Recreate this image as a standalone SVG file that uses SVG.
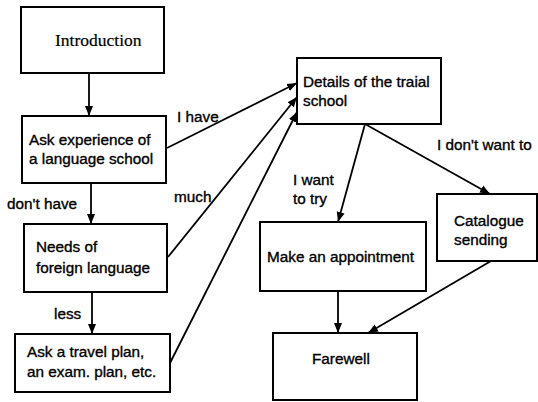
<svg xmlns="http://www.w3.org/2000/svg" width="538" height="402" viewBox="0 0 538 402">
<style>
.box{fill:#fff;stroke:#000;stroke-width:2}
.t{font-family:"Liberation Sans",Arial,sans-serif;font-size:15.3px;fill:#000;stroke:#000;stroke-width:0.35}
.s{font-family:"Liberation Serif","Times New Roman",serif;font-size:17.5px;fill:#000;stroke:#000;stroke-width:0.2}
.c{stroke:#000;stroke-width:1.8;fill:none;marker-end:url(#ah)}
</style>
<defs>
<marker id="ah" markerUnits="userSpaceOnUse" markerWidth="10" markerHeight="10" viewBox="0 0 10 10" refX="10" refY="5" orient="auto">
<path d="M0,1 L10,5 L0,9 Z" fill="#000"/>
</marker>
</defs>
<rect width="538" height="402" fill="#fff"/>
<g id="connectors">
<line class="c" x1="89" y1="73" x2="89" y2="116"/>
<line class="c" x1="91" y1="183" x2="91" y2="224"/>
<line class="c" x1="92" y1="292" x2="92" y2="334"/>
<line class="c" x1="167" y1="148" x2="297" y2="83"/>
<line class="c" x1="168" y1="257" x2="297" y2="97"/>
<line class="c" x1="170" y1="363" x2="297" y2="112"/>
<line class="c" x1="365" y1="124" x2="338" y2="222"/>
<line class="c" x1="365" y1="124" x2="490" y2="194"/>
<line class="c" x1="338" y1="291" x2="338" y2="333"/>
<line class="c" x1="491" y1="261" x2="368" y2="333"/>
<text class="t" x="177" y="122">I have</text>
<text class="t" x="7" y="209">don't have</text>
<text class="t" x="174" y="202">much</text>
<text class="t" x="54" y="319">less</text>
<text class="t" x="293" y="185">I want</text>
<text class="t" x="293" y="204">to try</text>
<text class="t" x="437" y="150">I don't want to</text>
</g>
<g id="introduction">
<rect class="box" x="21" y="7" width="143" height="66"/>
<text class="s" x="55" y="46">Introduction</text>
</g>
<g id="ask-experience">
<rect class="box" x="22" y="116" width="144" height="67"/>
<text class="t" x="29" y="145">Ask experience of</text>
<text class="t" x="29" y="164">a language school</text>
</g>
<g id="needs">
<rect class="box" x="24" y="224" width="143" height="68"/>
<text class="t" x="36" y="252">Needs of</text>
<text class="t" x="36" y="273">foreign language</text>
</g>
<g id="ask-travel">
<rect class="box" x="15" y="334" width="155" height="58"/>
<text class="t" x="27" y="357">Ask a travel plan,</text>
<text class="t" x="27" y="377">an exam. plan, etc.</text>
</g>
<g id="details">
<rect class="box" x="297" y="58" width="144" height="66"/>
<text class="t" x="303" y="87">Details of the traial</text>
<text class="t" x="303" y="106">school</text>
</g>
<g id="make-appointment">
<rect class="box" x="260" y="222" width="166" height="69"/>
<text class="t" x="267" y="262">Make an appointment</text>
</g>
<g id="catalogue">
<rect class="box" x="437" y="194" width="100" height="67"/>
<text class="t" x="454" y="226">Catalogue</text>
<text class="t" x="454" y="245">sending</text>
</g>
<g id="farewell">
<rect class="box" x="273" y="333" width="144" height="67"/>
<text class="t" x="312" y="364">Farewell</text>
</g>
</svg>
